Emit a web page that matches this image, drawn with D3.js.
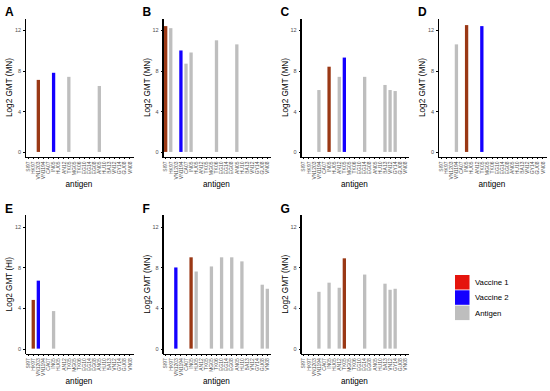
<!DOCTYPE html>
<html lang="en">
  <head>
    <meta charset="utf-8">
    <title>Log2 GMT by antigen</title>
  </head>
  <style>
    body { margin: 0; background: #fff; }
    svg text { font-family: "Liberation Sans", Arial, sans-serif; }
    .axis path, .axis line { stroke: #000; shape-rendering: crispEdges; }
    .axis text { fill: #4d4d4d; }
  </style>
  <body>
    <div id="svg-area"></div>
    <script src="https://cdn.jsdelivr.net/npm/d3@7"></script>
    <script>
      const svg_width = 550;
      const svg_height = 391;

      const antigens = ['SI97','HK97','VN1203','VN1194','CA07','IN05','HU05','AN12','TK05','MG05','TK06',
        'EG10','EG14','EG08','AN05','HU10','BA13','VN12','GY14','GU08','VN08'];
      const panels = ['A','B','C','D','E','F','G'];
      const yTitles = ['Log2 GMT (MN)','Log2 GMT (MN)','Log2 GMT (MN)','Log2 GMT (MN)','Log2 GMT (HI)','Log2 GMT (MN)','Log2 GMT (MN)'];
      const yTicks = [0, 4, 8, 12];

      //log2 GMT per antigen, one array per panel (null = not tested)
      const gmtA = [null,null,7.1,null,null,7.8,null,null,7.4,null,null,null,null,null,6.5,null,null,null,null,null,null];
      const gmtB = [12.4,12.2,null,10.0,8.7,9.8,null,null,null,null,11.0,null,null,null,10.6,null,null,null,null,null,null];
      const gmtC = [null,null,null,6.1,null,8.4,null,7.4,9.3,null,null,null,7.4,null,null,null,6.6,6.1,6.0,null,null];
      const gmtD = [null,null,null,10.6,null,12.5,null,null,12.4,null,null,null,null,null,null,null,null,null,null,null,null];
      const gmtE = [null,4.8,6.7,null,null,3.7,null,null,null,null,null,null,null,null,null,null,null,null,null,null,null];
      const gmtF = [null,null,8.0,null,null,9.0,7.6,null,null,8.1,null,9.0,null,9.0,null,8.6,null,null,null,6.3,5.9];
      const gmtG = [null,null,null,5.6,null,6.5,null,6.0,8.9,null,null,null,7.3,null,null,null,6.4,5.8,5.9,null,null];
      const gmt = [gmtA, gmtB, gmtC, gmtD, gmtE, gmtF, gmtG];

      //which antigen is the vaccine strain in each panel
      const vaccine1 = ['VN1203','SI97','IN05','IN05','HK97','IN05','TK05'];
      const vaccine2 = ['IN05','VN1194','TK05','TK05','VN1203','VN1203',null];

      const legendLabels = ['Vaccine 1','Vaccine 2','Antigen'];
      const legendColors = ['#e5140d','#1400ff','#bebebe'];
      const barColors = {v1: '#9a3815', v2: '#1400ff', ag: '#bebebe'};

      const svg = d3.select('#svg-area')
        .append('svg')
        .attr('width', svg_width)
        .attr('height', svg_height);

      const colX = [25, 162.5, 300.5, 438];
      const rowY = [0, 196.7];
      const axisW = 108;

      const y_scale = d3.scaleLinear()
        .domain([-0.5, 13.2])
        .range([157, 18]);

      panels.forEach((p, i) => {
        const x0 = colX[i % 4];
        const g = svg.append('g')
          .attr('transform', `translate(0,${rowY[Math.floor(i / 4)]})`);

        const x_scale = d3.scaleBand()
          .domain(antigens)
          .range([x0, x0 + axisW])
          .paddingInner(0.35)
          .paddingOuter(0.3);

        const bars = antigens.map((a, k) => ({
          key: a,
          value: gmt[i][k],
          role: a === vaccine1[i] ? 'v1' : (a === vaccine2[i] ? 'v2' : 'ag')
        })).filter(d => d.value !== null);

        g.append('g')
          .selectAll('rect').data(bars).enter()
          .append('rect')
          .attr('x', d => x_scale(d.key))
          .attr('y', d => y_scale(d.value))
          .attr('width', x_scale.bandwidth())
          .attr('height', d => y_scale(0) - y_scale(d.value))
          .attr('fill', d => barColors[d.role]);

        //axes
        const xa = g.append('g')
          .attr('class', 'axis')
          .attr('transform', `translate(0,${y_scale.range()[0]})`)
          .call(d3.axisBottom(x_scale).tickSize(2).tickSizeOuter(0));
        xa.select('.domain').attr('stroke-width', 1.4);
        xa.selectAll('text')
          .attr('font-size', 5)
          .attr('text-anchor', 'end')
          .attr('dx', '-0.3em')
          .attr('dy', '0.35em')
          .attr('x', 0)
          .attr('y', 0)
          .attr('transform', 'translate(0,3) rotate(-90)');

        const ya = g.append('g')
          .attr('class', 'axis')
          .attr('transform', `translate(${x0},0)`)
          .call(d3.axisLeft(y_scale).tickValues(yTicks).tickSize(2).tickSizeOuter(0));
        ya.select('.domain').attr('stroke-width', 1.4);
        ya.selectAll('text').attr('font-size', 5.5).attr('x', -4);

        //titles
        g.append('text')
          .attr('transform', `translate(${x0 - 13},${(18 + 157) / 2}) rotate(-90)`)
          .attr('text-anchor', 'middle')
          .attr('font-size', 8.2)
          .text(yTitles[i]);
        g.append('text')
          .attr('x', x0 + axisW / 2)
          .attr('y', 187)
          .attr('text-anchor', 'middle')
          .attr('font-size', 8.2)
          .text('antigen');
        g.append('text')
          .attr('x', x0 - 20)
          .attr('y', 16)
          .attr('font-size', 12)
          .attr('font-weight', 'bold')
          .text(p);
      });

      //legend
      const legend = svg.append('g').attr('transform', 'translate(455,275)');
      legend.selectAll('rect').data(legendLabels).enter()
        .append('rect')
        .attr('x', 0)
        .attr('y', (d, k) => k * 15.3)
        .attr('width', 14.5)
        .attr('height', 14.5)
        .attr('fill', (d, k) => legendColors[k]);
      legend.selectAll('text').data(legendLabels).enter()
        .append('text')
        .attr('x', 20)
        .attr('y', (d, k) => k * 15.3 + 10)
        .attr('font-size', 7.8)
        .text(d => d);
    </script>
  </body>
</html>
